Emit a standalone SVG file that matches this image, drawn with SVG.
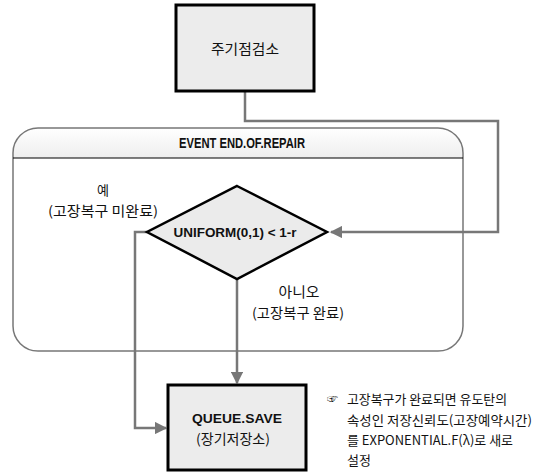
<svg xmlns="http://www.w3.org/2000/svg" width="540" height="473" viewBox="0 0 540 473">
<style>
.lbl{font-family:"Liberation Sans","Noto Sans CJK KR",sans-serif;fill:#111;}
.kr{font-family:"Noto Sans CJK KR","Liberation Sans",sans-serif;fill:#111;}
.b{font-weight:bold;}
.conn{fill:none;stroke:#777;stroke-width:2.5;}
.box{fill:#ececec;stroke:#000;stroke-width:3;}
</style>
<defs>
<linearGradient id="hdr" x1="0" y1="0" x2="0" y2="1">
<stop offset="0" stop-color="#ffffff"/>
<stop offset="1" stop-color="#eeeeee"/>
</linearGradient>
<marker id="arr" viewBox="0 0 10 10" refX="9" refY="5" markerWidth="5" markerHeight="5" orient="auto" markerUnits="strokeWidth">
<path d="M0,0 L10,5 L0,10 Z" fill="#777"/>
</marker>
</defs>
<g id="event-container">
<path d="M13,158 L13,153 A25,25 0 0 1 38,128 L438,128 A25,25 0 0 1 463,153 L463,158 Z" fill="url(#hdr)"/>
<path d="M13,158 L13,153 A25,25 0 0 1 38,128 L438,128 A25,25 0 0 1 463,153 L463,326 A25,25 0 0 1 438,351 L38,351 A25,25 0 0 1 13,326 Z" fill="none" stroke="#777" stroke-width="1.5"/>
<line x1="13" y1="158" x2="463" y2="158" stroke="#000" stroke-width="1"/>
<text class="lbl b" x="242" y="148" font-size="14.5" text-anchor="middle" textLength="126" lengthAdjust="spacingAndGlyphs">EVENT END.OF.REPAIR</text>
</g>
<g id="connectors">
<polyline class="conn" points="245,92 245,121 498,121 498,232 331,232" marker-end="url(#arr)"/>
<polyline class="conn" points="147,232 135,232 135,428 166,428" marker-end="url(#arr)"/>
<polyline class="conn" points="237,279 237,383" marker-end="url(#arr)"/>
</g>
<g id="node-inspect">
<rect class="box" x="176" y="5" width="138" height="86"/>
<text class="kr" x="245" y="54" font-size="14" text-anchor="middle" textLength="68" lengthAdjust="spacingAndGlyphs">주기점검소</text>
</g>
<g id="node-decision">
<polygon points="237,186 327,232 237,279 147,232" fill="#ebebeb" stroke="#000" stroke-width="2.5"/>
<text class="lbl b" x="235" y="237" font-size="13" text-anchor="middle" textLength="123" lengthAdjust="spacingAndGlyphs">UNIFORM(0,1) &lt; 1-r</text>
</g>
<g id="label-yes">
<text class="kr" x="103" y="195" font-size="13" text-anchor="middle">예</text>
<text class="kr" x="103" y="216" font-size="13.5" text-anchor="middle" textLength="110" lengthAdjust="spacingAndGlyphs">(고장복구 미완료)</text>
</g>
<g id="label-no">
<text class="kr" x="299" y="297" font-size="13.5" text-anchor="middle" textLength="41" lengthAdjust="spacingAndGlyphs">아니오</text>
<text class="kr" x="298" y="318" font-size="13.5" text-anchor="middle" textLength="92" lengthAdjust="spacingAndGlyphs">(고장복구 완료)</text>
</g>
<g id="node-queue">
<rect class="box" x="168" y="385" width="138" height="85"/>
<text class="lbl b" x="237" y="423" font-size="13.5" text-anchor="middle" textLength="90" lengthAdjust="spacingAndGlyphs">QUEUE.SAVE</text>
<text class="kr" x="233" y="444" font-size="13.5" text-anchor="middle" textLength="74" lengthAdjust="spacingAndGlyphs">(장기저장소)</text>
</g>
<g id="note">
<text class="kr" font-size="11" x="327" y="403">☞</text>
<text class="kr" font-size="13"><tspan x="347" y="404" textLength="160" lengthAdjust="spacingAndGlyphs">고장복구가 완료되면 유도탄의</tspan><tspan x="347" y="425" textLength="185" lengthAdjust="spacingAndGlyphs">속성인 저장신뢰도(고장예약시간)</tspan><tspan x="347" y="445" textLength="166" lengthAdjust="spacingAndGlyphs">를 EXPONENTIAL.F(λ)로 새로</tspan><tspan x="347" y="465">설정</tspan></text>
</g>
</svg>
